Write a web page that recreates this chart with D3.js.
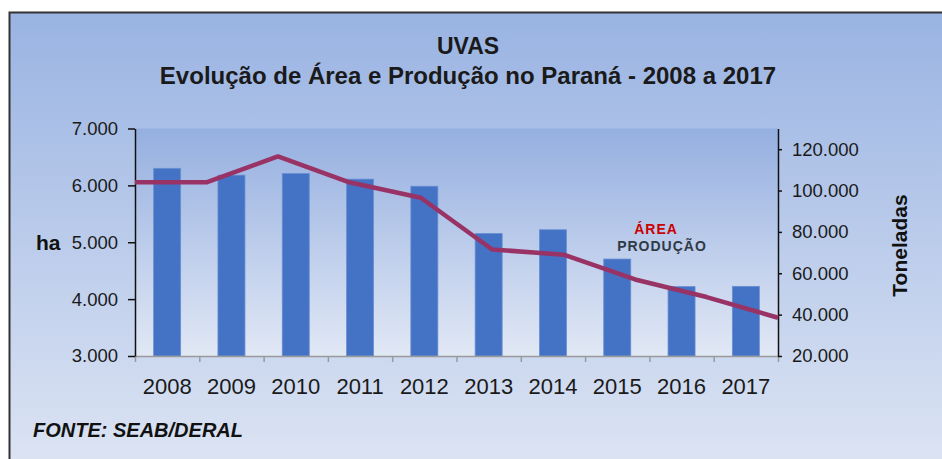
<!DOCTYPE html>
<html>
<head>
<meta charset="utf-8">
<script src="https://cdn.jsdelivr.net/npm/d3@7"></script>
<style>
body{margin:0;background:#fff;}
text{font-family:"Liberation Sans",Arial,sans-serif;}
</style>
</head>
<body>
<script>
var years = ["2008","2009","2010","2011","2012","2013","2014","2015","2016","2017"];
var area = [6300,6180,6210,6110,5985,5155,5220,4705,4220,4225];          // ha
var producao = [104000,104000,116500,104000,96500,71500,69000,57000,48500,38500]; // toneladas
var leftTicks = [3000,4000,5000,6000,7000];
var rightTicks = [20000,40000,60000,80000,100000,120000];

var width = 942, height = 459;
var plot = {left:135, right:778, top:128.5, bottom:356};

var pt = d3.formatLocale({decimal:",", thousands:".", grouping:[3], currency:["R$",""]});
var fmt = pt.format(",.0f");

var svg = d3.select("body").append("svg")
.attr("width",width)
.attr("height",height);

var defs = svg.append("defs");
var g1 = defs.append("linearGradient").attr("id","bg").attr("x1",0).attr("y1",0).attr("x2",0).attr("y2",1);
g1.append("stop").attr("offset","0%").attr("stop-color","#99b3e2");
g1.append("stop").attr("offset","100%").attr("stop-color","#dfe6f4");
var g2 = defs.append("linearGradient").attr("id","pa").attr("x1",0).attr("y1",0).attr("x2",0).attr("y2",1);
g2.append("stop").attr("offset","0%").attr("stop-color","#95afe0");
g2.append("stop").attr("offset","100%").attr("stop-color","#e1e8f5");

// chart background + frame
svg.append("rect")
.attr("x",9.5).attr("y",12.5)
.attr("width",960).attr("height",470)
.attr("fill","url(#bg)")
.attr("stroke","#333").attr("stroke-width",2);

// plot area
svg.append("rect")
.attr("x",plot.left).attr("y",plot.top)
.attr("width",plot.right-plot.left).attr("height",plot.bottom-plot.top)
.attr("fill","url(#pa)");

var xScale = d3.scaleBand()
.domain(years)
.range([plot.left,plot.right])
.paddingInner(0.58)
.paddingOuter(0.29);

var xLine = d3.scalePoint()
.domain(years)
.range([plot.left,plot.right]);

var xEdge = d3.scaleLinear()
.domain([0,years.length])
.range([plot.left,plot.right]);

var yLeft = d3.scaleLinear()
.domain([3000,7000])
.range([plot.bottom,plot.top]);

var yRight = d3.scaleLinear()
.domain([20000,130000])
.range([plot.bottom,plot.top]);

// bars (area)
svg.selectAll(".bar")
.data(area)
.enter()
.append("rect")
.attr("class","bar")
.attr("x",function(d,i){ return xScale(years[i]); })
.attr("y",function(d){ return yLeft(d); })
.attr("width",xScale.bandwidth())
.attr("height",function(d){ return plot.bottom - yLeft(d); })
.attr("fill","#4472c4")
.attr("stroke","#6a8fd3")
.attr("stroke-width",0.8);

// bottom axis: boundary ticks
svg.append("g")
.attr("transform","translate(0," + plot.bottom + ")")
.call(d3.axisBottom(xEdge).tickValues(d3.range(years.length+1)).tickFormat("").tickSize(6).tickSizeOuter(0))
.call(function(g){
	g.selectAll("line,path").attr("stroke","#9a9a9a").attr("stroke-width",1.5);
});

// year labels
svg.append("g")
.attr("transform","translate(0," + plot.bottom + ")")
.call(d3.axisBottom(xScale).tickSize(0).tickPadding(22))
.call(function(g){
	g.select(".domain").remove();
	g.selectAll("text").attr("font-family","Liberation Sans, Arial, sans-serif")
	.attr("font-size","22px").attr("fill","#1a1a1a");
});

// left axis
svg.append("g")
.attr("transform","translate(" + plot.left + ",0)")
.call(d3.axisLeft(yLeft).tickValues(leftTicks).tickFormat(fmt).tickSize(7).tickSizeOuter(0).tickPadding(10))
.call(function(g){
	g.selectAll("line,path").attr("stroke","#111").attr("stroke-width",1.5);
	g.selectAll("text").attr("font-family","Liberation Sans, Arial, sans-serif")
	.attr("font-size","18.5px").attr("fill","#1a1a1a");
});

// right axis
svg.append("g")
.attr("transform","translate(" + plot.right + ",0)")
.call(d3.axisRight(yRight).tickValues(rightTicks).tickFormat(fmt).tickSize(4).tickSizeOuter(0).tickPadding(10))
.call(function(g){
	g.selectAll("line,path").attr("stroke","#111").attr("stroke-width",1.5);
	g.selectAll("text").attr("font-family","Liberation Sans, Arial, sans-serif")
	.attr("font-size","18.5px").attr("fill","#1a1a1a");
});

// production line
var line = d3.line()
.x(function(d,i){ return xLine(years[i]); })
.y(function(d){ return yRight(d); });

svg.append("path")
.datum(producao)
.attr("d",line)
.attr("fill","none")
.attr("stroke","#993366")
.attr("stroke-width",4.5)
.attr("stroke-linejoin","round");

// titles
svg.append("text")
.attr("x",468).attr("y",54)
.attr("text-anchor","middle")
.attr("font-size","23px").attr("font-weight","bold").attr("fill","#1a1a1a")
.text("UVAS");

svg.append("text")
.attr("x",468).attr("y",84)
.attr("text-anchor","middle")
.attr("font-size","24px").attr("font-weight","bold").attr("fill","#1a1a1a")
.text("Evolução de Área e Produção no Paraná - 2008 a 2017");

// axis titles
svg.append("text")
.attr("x",36).attr("y",250)
.attr("font-size","21px").attr("font-weight","bold").attr("fill","#111")
.text("ha");

svg.append("text")
.attr("transform","translate(907,245.5) rotate(-90)")
.attr("text-anchor","middle")
.attr("font-size","21px").attr("font-weight","bold").attr("fill","#111")
.text("Toneladas");

// legend
svg.append("text")
.attr("x",656).attr("y",234)
.attr("text-anchor","middle")
.attr("font-family","DejaVu Sans, sans-serif")
.attr("font-size","14px").attr("font-weight","bold").attr("letter-spacing","1")
.attr("fill","#cc0000")
.text("ÁREA");

svg.append("text")
.attr("x",662).attr("y",251)
.attr("text-anchor","middle")
.attr("font-family","DejaVu Sans, sans-serif")
.attr("font-size","14px").attr("font-weight","bold").attr("letter-spacing","1")
.attr("fill","#2f3a46")
.text("PRODUÇÃO");

// source
svg.append("text")
.attr("x",33).attr("y",437)
.attr("font-size","20px").attr("font-weight","bold").attr("font-style","italic").attr("fill","#111")
.text("FONTE: SEAB/DERAL");
</script>
</body>
</html>
